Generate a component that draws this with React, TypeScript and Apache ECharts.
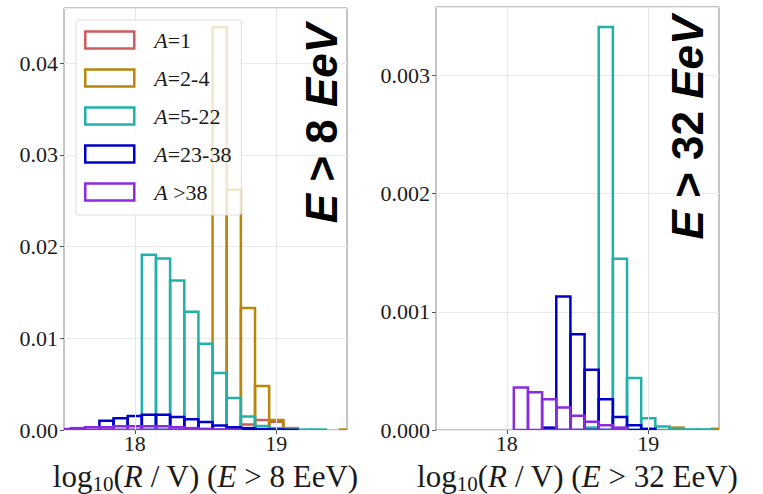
import React, { useEffect, useRef } from "react";
import * as echarts from "echarts";

// Bin centres (bin width 0.1 in log10(R/V))
const binCenters = [17.5, 17.6, 17.7, 17.8, 17.9, 18.0, 18.1, 18.2, 18.3, 18.4, 18.5, 18.6, 18.7, 18.8, 18.9, 19.0, 19.1, 19.2, 19.3, 19.4, 19.5];

const seriesNames = ["A=1", "A=2-4", "A=5-22", "A=23-38", "A >38"];
const seriesColors = ["#cd5c5c", "#b8860b", "#20b2aa", "#0000cd", "#8a2be2"];

// Left panel: E > 8 EeV
const left_A1 = [0, 0, 0, 0, 0, 0, 0, 0, 0, 0, 0, 0, 0.0002, 0.0006, 0.0011, 0.0009, 0.0002, 0, 0, 0, 0];
const left_A2_4 = [0, 0, 0, 0, 0, 0, 0, 0, 0, 0, 0.0001, 0.0439, 0.0262, 0.0133, 0.0048, 0.0011, 0.0002, 0, 0, 0, 0.00005];
const left_A5_22 = [0, 0, 0, 0, 0, 0, 0.0191, 0.0187, 0.0163, 0.0129, 0.0094, 0.0062, 0.0035, 0.00146, 0.00044, 0.0002, 0.00005, 0.00005, 0.00005, 0, 0];
const left_A23_38 = [0, 0, 0, 0.001, 0.00128, 0.00153, 0.00167, 0.00167, 0.00142, 0.00117, 0.00087, 0.0005, 0.0003, 0.0002, 0.0001, 0.00005, 0.00002, 0, 0, 0, 0];
const left_A38 = [0.0001, 0.0002, 0.0003, 0.0003, 0.0004, 0.0004, 0.0004, 0.0004, 0.0003, 0.0002, 0.00012, 0.00006, 0.00003, 0, 0, 0, 0, 0, 0, 0, 0];

// Right panel: E > 32 EeV
const right_A1 = [0, 0, 0, 0, 0, 0, 0, 0, 0, 0, 0, 0, 0, 0, 0, 0, 0, 0, 0, 0, 0];
const right_A2_4 = [0, 0, 0, 0, 0, 0, 0, 0, 0, 0, 0, 0, 0, 0, 0, 0, 0, 0.00002, 0, 0, 0.00001];
const right_A5_22 = [0, 0, 0, 0, 0, 0, 0, 0, 0, 0, 0, 0.00002, 0.00341, 0.00145, 0.00044, 0.0001, 0.00003, 0.000005, 0.000005, 0.000005, 0];
const right_A23_38 = [0, 0, 0, 0, 0, 0, 0, 0, 0.00002, 0.00113, 0.00081, 0.00051, 0.00026, 0.00011, 0.00004, 0.00001, 0, 0, 0, 0, 0];
const right_A38 = [0, 0, 0, 0, 0, 0, 0.00036, 0.00032, 0.00026, 0.00019, 0.00012, 0.00007, 0.00004, 0.00002, 0, 0, 0, 0, 0, 0, 0];

const leftValues = [left_A1, left_A2_4, left_A5_22, left_A23_38, left_A38];
const rightValues = [right_A1, right_A2_4, right_A5_22, right_A23_38, right_A38];

const xTicks = [18, 19];
const binWidth = 0.1;

const SERIF = "'Liberation Serif', 'DejaVu Serif', serif";
const SANS = "'Liberation Sans', Arial, sans-serif";
const TEXT = "#1a1a1a";

export default function App() {
  const ref = useRef<HTMLDivElement>(null);

  useEffect(() => {
    if (!ref.current) return;
    const chart = echarts.init(ref.current, undefined, { renderer: "svg" });

    const makeSeries = (vals: number[], color: string, name: string, idx: number) => ({
      type: "custom",
      name,
      xAxisIndex: idx,
      yAxisIndex: idx,
      clip: true,
      itemStyle: { color },
      encode: { x: 0, y: 1 },
      data: binCenters.map((c, i) => [c, vals[i]]).filter((d) => d[1] > 0),
      renderItem: (params: any, api: any) => {
        const x = api.value(0);
        const v = api.value(1);
        const p0 = api.coord([x - binWidth / 2, v]);
        const p1 = api.coord([x + binWidth / 2, 0]);
        return {
          type: "rect",
          shape: { x: p0[0], y: p0[1], width: p1[0] - p0[0], height: p1[1] - p0[1] },
          style: { fill: "none", stroke: color, lineWidth: 2.5 },
        };
      },
    });

    const gridLineSeries = (idx: number) => ({
      type: "line",
      xAxisIndex: idx,
      yAxisIndex: idx,
      data: [],
      silent: true,
      z: 1,
      markLine: {
        silent: true,
        symbol: "none",
        label: { show: false },
        lineStyle: { color: "#e6e6e6", width: 1, type: "solid" },
        data: xTicks.map((t) => ({ xAxis: t })),
      },
    });

    const xName = (e: string) =>
      `{n|log}{s|10}{n|(}{i|R}{n| / V) (}{i|E}{n| > ${e} EeV)}`;

    const nameRich = {
      n: { fontFamily: SERIF, fontSize: 31, color: TEXT, lineHeight: 36, verticalAlign: "middle" },
      i: { fontFamily: SERIF, fontSize: 31, fontStyle: "italic", color: TEXT, lineHeight: 36, verticalAlign: "middle" },
      s: { fontFamily: SERIF, fontSize: 21, color: TEXT, lineHeight: 20, verticalAlign: "bottom" },
    };

    const xAxisBase = (e: string, idx: number) => ({
      type: "value",
      gridIndex: idx,
      min: 17.5,
      max: 19.5,
      name: xName(e),
      nameLocation: "middle",
      nameGap: 28,
      nameTextStyle: { rich: nameRich },
      axisLine: { show: false },
      axisTick: { show: true, length: 4, customValues: xTicks, lineStyle: { color: "#555" } },
      axisLabel: {
        customValues: xTicks,
        margin: 2,
        fontFamily: SERIF,
        fontSize: 22,
        color: TEXT,
        formatter: (v: number) => (Math.abs(v - Math.round(v)) < 1e-6 ? String(Math.round(v)) : ""),
      },
      splitLine: { show: false },
    });

    const yAxisBase = (max: number, interval: number, digits: number, idx: number) => ({
      type: "value",
      gridIndex: idx,
      min: 0,
      max,
      interval,
      axisLine: { show: false },
      axisTick: { show: true, length: 4, lineStyle: { color: "#555" } },
      axisLabel: {
        margin: 6,
        fontFamily: SERIF,
        fontSize: 22,
        color: TEXT,
        showMaxLabel: false,
        formatter: (v: number) => v.toFixed(digits),
      },
      splitLine: { show: true, lineStyle: { color: "#ebebeb", width: 1 } },
    });

    const legendRich = {
      i: { fontFamily: SERIF, fontSize: 22, fontStyle: "italic", color: TEXT, lineHeight: 17, padding: [0, 0, 0, 15] },
      n: { fontFamily: SERIF, fontSize: 22, color: TEXT, lineHeight: 17 },
    };

    const eLabel = (e: string, x: number, y: number) => ({
      type: "text",
      x,
      y,
      rotation: Math.PI / 2,
      z: 100,
      style: {
        text: `{i|E}{n| > ${e} }{i|EeV}`,
        align: "center",
        verticalAlign: "middle",
        fill: "#000",
        fontSize: 44,
        fontWeight: "bold",
        fontFamily: SANS,
        rich: {
          i: { fontSize: 44, fontWeight: "bold", fontStyle: "italic", fontFamily: SANS, fill: "#000" },
          n: { fontSize: 44, fontWeight: "bold", fontFamily: SANS, fill: "#000" },
        },
      },
    });

    const gridBase = {
      show: true,
      borderColor: "#8a8a8a",
      borderWidth: 1,
      backgroundColor: "transparent",
      containLabel: false,
      outerBoundsMode: "none",
    };

    const option: any = {
      animation: false,
      backgroundColor: "#ffffff",
      grid: [
        { ...gridBase, left: 64, top: 8, width: 283, height: 422 },
        { ...gridBase, left: 436, top: 7, width: 283, height: 423 },
      ],
      xAxis: [xAxisBase("8", 0), xAxisBase("32", 1)],
      yAxis: [yAxisBase(0.046, 0.01, 2, 0), yAxisBase(0.00358, 0.001, 3, 1)],
      legend: {
        orient: "vertical",
        left: 76,
        top: 20,
        padding: [9, 10, 12, 8],
        itemWidth: 49,
        itemHeight: 17,
        itemGap: 16,
        icon: "rect",
        backgroundColor: "rgba(255,255,255,0.8)",
        borderColor: "#dcdcdc",
        borderWidth: 1,
        borderRadius: 3,
        selectedMode: false,
        z: 10,
        data: seriesNames.map((n, k) => ({
          name: n,
          icon: "rect",
          itemStyle: { color: "rgba(255,255,255,0)", borderColor: seriesColors[k], borderWidth: 2.5 },
        })),
        formatter: (name: string) => `{i|A}{n|${name.slice(1)}}`,
        textStyle: { rich: legendRich, fontFamily: SERIF, fontSize: 22, color: TEXT },
      },
      graphic: [eLabel("8", 321, 123.5), eLabel("32", 687.5, 127.5)],
      series: [
        gridLineSeries(0),
        gridLineSeries(1),
        ...leftValues.map((v, k) => makeSeries(v, seriesColors[k], seriesNames[k], 0)),
        ...rightValues.map((v, k) => makeSeries(v, seriesColors[k], seriesNames[k], 1)),
      ],
    };

    chart.setOption(option);
    return () => chart.dispose();
  }, []);

  return (
    <div
      ref={ref}
      style={{ position: "fixed", left: 0, top: 0, width: 763, height: 494, background: "#fff" }}
    />
  );
}
